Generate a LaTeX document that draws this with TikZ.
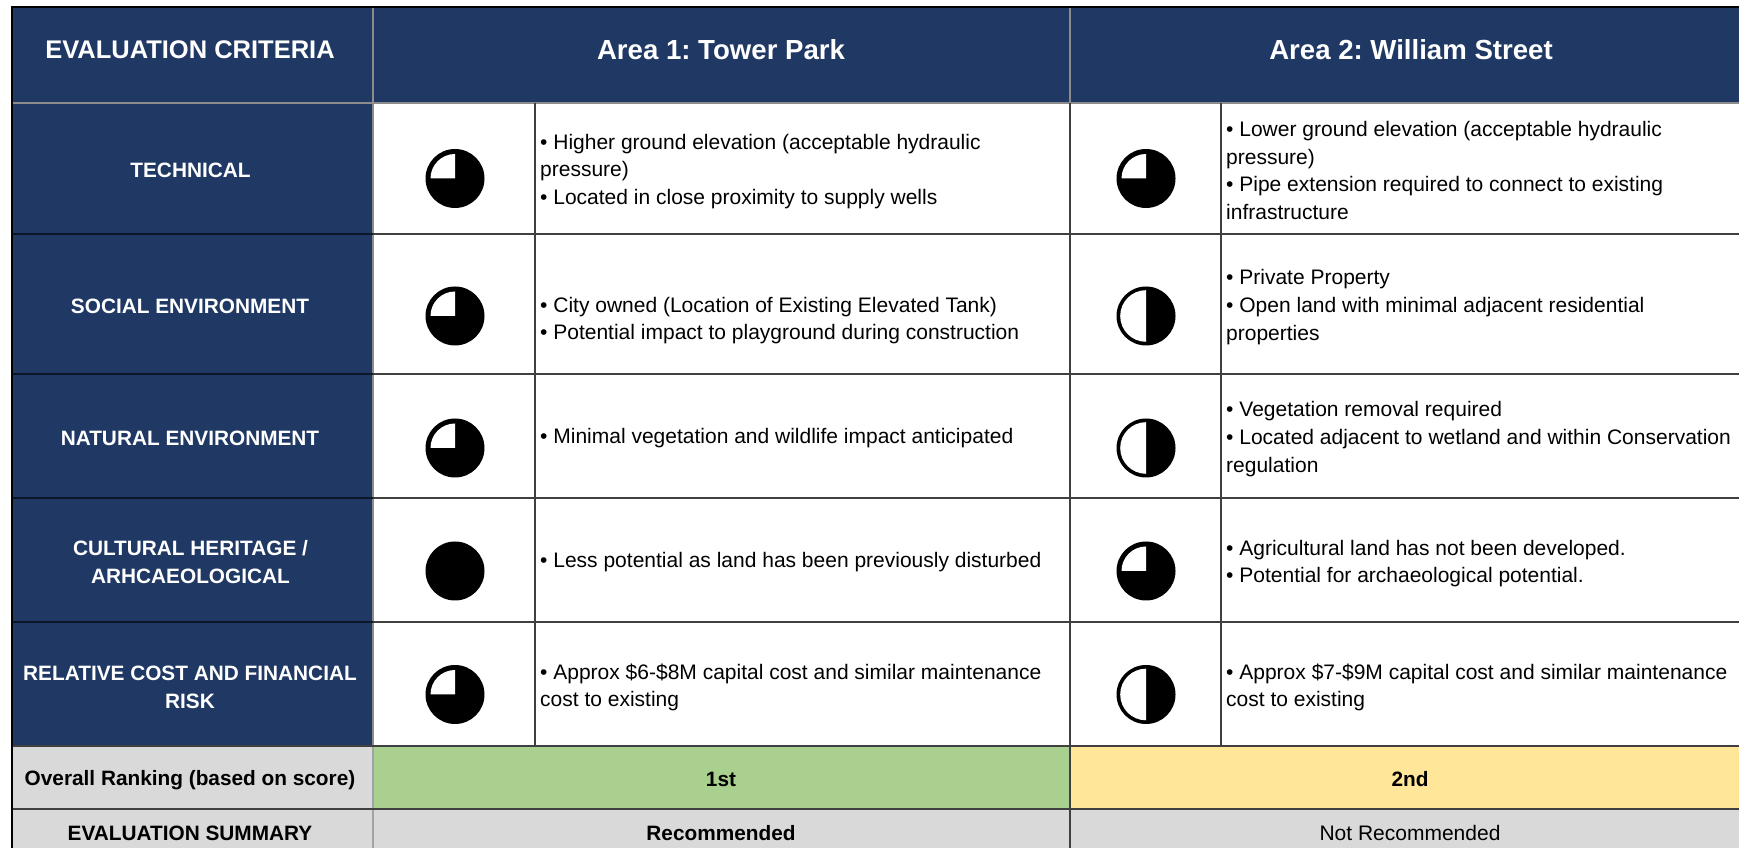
\documentclass[tikz,border=0pt]{standalone}
\usepackage{fontspec}
\setmainfont{Liberation Sans}
\frenchspacing
\definecolor{navy}{HTML}{1F3864}
\definecolor{okgreen}{HTML}{A9D08E}
\definecolor{okyellow}{HTML}{FFE699}
\definecolor{cellgrey}{HTML}{D9D9D9}
\definecolor{gridgrey}{HTML}{8C8C8C}
\definecolor{griddark}{HTML}{404040}
\newcommand{\bodysize}{\fontsize{21}{27.7}\selectfont}
\newcommand{\labelsize}{\fontsize{20.8}{27.7}\selectfont\bfseries}
\newcommand{\harveyQ}[3]{%
  \fill[black] (#2,#3) circle (29.5);
  \fill[white] (#2,#3) -- (#2-24.5,#3) arc (180:90:24.5) -- cycle;
  \node[hmark] (#1) at (#2,#3) {};}
\newcommand{\harveyH}[3]{%
  \fill[black] (#2,#3) circle (29.5);
  \fill[white] (#2,#3+25.8) arc (90:270:25.8) -- cycle;
  \node[hmark] (#1) at (#2,#3) {};}
\newcommand{\harveyF}[3]{%
  \fill[black] (#2,#3) circle (29.5);
  \node[hmark] (#1) at (#2,#3) {};}
\tikzset{
  hmark/.style={inner sep=0pt,minimum size=59pt,circle},
  bodytext/.style={anchor=west,align=left,inner sep=0pt,text=black,font=\bodysize},
  crit/.style={anchor=center,align=center,inner sep=0pt,text=white,font=\labelsize},
  head/.style={anchor=center,inner sep=0pt,text=white,font=\fontsize{27.6}{30}\selectfont\bfseries},
  sum/.style={anchor=center,inner sep=0pt,text=black,font=\labelsize},
  gl/.style={gridgrey,line width=1.2pt},
  gd/.style={griddark,line width=1.6pt},
  gk/.style={black!85,line width=2pt},
}
\begin{document}
\begin{tikzpicture}[x=1pt,y=1pt]
\useasboundingbox (0,0) rectangle (1739,848);
\fill[white] (0,0) rectangle (1739,848);
% fills
\fill[navy] (12,840) rectangle (1739,745);
\fill[navy] (12,745) rectangle (373,102);
\fill[cellgrey] (12,102) rectangle (373,0);
\fill[okgreen] (373,102) rectangle (1070,39);
\fill[okyellow] (1070,102) rectangle (1739,39);
\fill[cellgrey] (373,39) rectangle (1739,0);
% grid
\draw[gl] (12,745) -- (1739,745);
\draw[gl] (373,840) -- (373,102);
\draw[gl] (1070,840) -- (1070,745);
\draw[gd] (1070,745) -- (1070,0);
\draw[gl,gridgrey!80] (373,102) -- (373,0);
\draw[gd,line width=1.2pt] (535,745) -- (535,102);
\draw[gd,line width=1.2pt] (1221,745) -- (1221,102);
\foreach \yy in {614,474,350,226}{
  \draw[gk,navy!40!black] (12,\yy) -- (373,\yy);
  \draw[gd] (373,\yy) -- (1739,\yy);
}
\draw[gd,line width=2pt] (12,102) -- (1739,102);
\draw[gd,line width=2pt] (12,39) -- (1739,39);
\draw[black,line width=2.5pt] (12,0) -- (12,841) -- (1739,841);
% header
\node[head,font=\fontsize{25.5}{30}\selectfont\bfseries] (hcrit) at (190,798.5) {EVALUATION CRITERIA};
\node[head] (harea1) at (721,798) {Area 1: Tower Park};
\node[head] (harea2) at (1411,798) {Area 2: William Street};
% criteria
\node[crit] (ctech) at (190.5,678) {TECHNICAL};
\node[crit] (csoc) at (190,542) {SOCIAL ENVIRONMENT};
\node[crit] (cnat) at (190,410) {NATURAL ENVIRONMENT};
\node[crit] (ccul) at (190.5,286) {CULTURAL HERITAGE /\\ARHCAEOLOGICAL};
\node[crit] (ccost) at (190,161) {RELATIVE COST AND FINANCIAL\\RISK};
% harvey balls
\harveyQ{b1a}{455}{669.5}
\harveyQ{b1b}{1146}{669.5}
\harveyQ{b2a}{455}{532}
\harveyH{b2b}{1146}{532}
\harveyQ{b3a}{455}{400}
\harveyH{b3b}{1146}{400}
\harveyF{b4a}{455}{277}
\harveyQ{b4b}{1146}{277}
\harveyQ{b5a}{455}{153.5}
\harveyH{b5b}{1146}{153.5}
% body text
\node[bodytext] (t1a) at (540,676.5) {• Higher ground elevation (acceptable hydraulic\\pressure)\\• Located in close proximity to supply wells};
\node[bodytext] (t1b) at (1226,677.5) {• Lower ground elevation (acceptable hydraulic\\pressure)\\• Pipe extension required to connect to existing\\infrastructure};
\node[bodytext] (t2a) at (540,527.5) {• City owned (Location of Existing Elevated Tank)\\• Potential impact to playground during construction};
\node[bodytext] (t2b) at (1226,541) {• Private Property\\• Open land with minimal adjacent residential\\properties};
\node[bodytext] (t3a) at (540,409.5) {• Minimal vegetation and wildlife impact anticipated};
\node[bodytext] (t3b) at (1226,409) {• Vegetation removal required\\• Located adjacent to wetland and within Conservation\\regulation};
\node[bodytext] (t4a) at (540,285.5) {• Less potential as land has been previously disturbed};
\node[bodytext] (t4b) at (1226,284.5) {• Agricultural land has not been developed.\\• Potential for archaeological potential.};
\node[bodytext] (t5a) at (540,160.5) {• Approx \$6-\$8M capital cost and similar maintenance\\cost to existing};
\node[bodytext] (t5b) at (1226,160.5) {• Approx \$7-\$9M capital cost and similar maintenance\\cost to existing};
% bottom rows
\node[sum] (rlabel) at (190,68) {Overall Ranking (based on score)};
\node[sum] (r1) at (721,68.5) {1st};
\node[sum] (r2) at (1410,68.5) {2nd};
\node[sum] (slabel) at (190,15) {EVALUATION SUMMARY};
\node[sum] (s1) at (721,15) {Recommended};
\node[sum,font=\bodysize] (s2) at (1410,15) {Not Recommended};
\end{tikzpicture}
\end{document}
